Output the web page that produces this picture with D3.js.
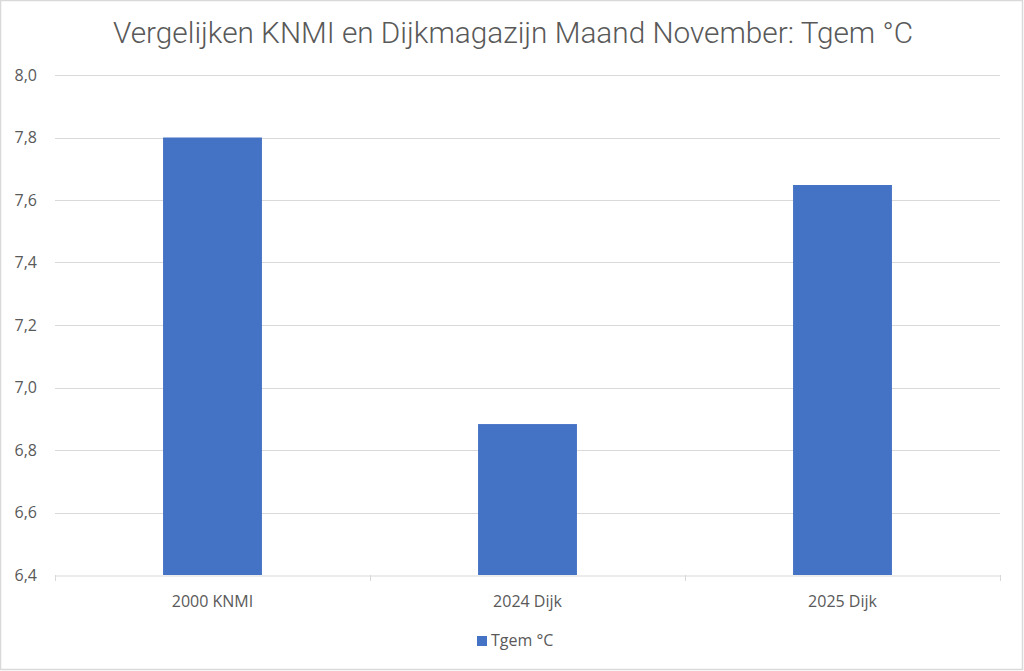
<!DOCTYPE html>
<html><head><meta charset="utf-8">
<script src="https://cdn.jsdelivr.net/npm/d3@7"></script>
<style>body{margin:0;background:#fff}svg{display:block}</style>
</head><body>
<svg id="c" width="1024" height="671"></svg>
<script>
const categories = ["2000 KNMI", "2024 Dijk", "2025 Dijk"];
const values = [7.80, 6.883, 7.648];
const yTicks = [6.4, 6.6, 6.8, 7.0, 7.2, 7.4, 7.6, 7.8, 8.0];
const seriesName = "Tgem °C";
const title = "Vergelijken KNMI en Dijkmagazijn Maand November: Tgem °C";

(function(){
const svg = d3.select("#c");
const W = 1024, H = 671;
svg.append("rect").attr("x",0.5).attr("y",0.5).attr("width",W-2).attr("height",H-2)
  .attr("fill","#fff").attr("stroke","#d9d9d9").attr("stroke-width",1.5);

const pL = 55, pR = 1000, pT = 75, pB = 575;
const x = d3.scaleBand().domain(categories).range([pL, pR]).paddingInner(0.686).paddingOuter(0.343);
const y = d3.scaleLinear().domain([6.4, 8.0]).range([pB, pT]);
const fmt = d => d3.format(".1f")(d).replace(".", ",");
const font = "'Open Sans', 'Noto Sans', sans-serif";

svg.append("g").selectAll("line").data(yTicks.slice(1)).join("line")
  .attr("x1", pL).attr("x2", pR)
  .attr("y1", d => Math.round(y(d))+0.5).attr("y2", d => Math.round(y(d))+0.5)
  .attr("stroke", "#d9d9d9").attr("stroke-width", 1);

svg.append("g").selectAll("text").data(yTicks).join("text")
  .attr("x", 37).attr("y", d => y(d)).attr("dy", "0.35em")
  .attr("text-anchor", "end")
  .attr("font-family", font).attr("font-size", 16)
  .attr("fill", "#595959").text(fmt);

svg.append("g").selectAll("rect").data(values).join("rect")
  .attr("x", (d,i) => x(categories[i])).attr("width", x.bandwidth())
  .attr("y", d => y(d)).attr("height", d => y(6.4) - y(d))
  .attr("fill", "#4472c4");

const xa = svg.append("g").attr("transform", `translate(0,${pB+0.5})`)
  .call(d3.axisBottom(x).tickSize(0).tickFormat(""));
xa.select(".domain").attr("stroke", "#d9d9d9");
const bounds = [pL, pL + x.step(), pL + 2*x.step(), pR];
svg.append("g").selectAll("line").data(bounds).join("line")
  .attr("x1", d => Math.round(d)+0.5).attr("x2", d => Math.round(d)+0.5)
  .attr("y1", pB).attr("y2", pB+6).attr("stroke", "#d9d9d9");
svg.append("g").selectAll("text").data(categories).join("text")
  .attr("x", d => x(d) + x.bandwidth()/2).attr("y", 601).attr("dy","0.35em")
  .attr("text-anchor", "middle")
  .attr("font-family", font).attr("font-size", 16)
  .attr("fill", "#595959").text(d => d);

svg.append("text").attr("x", 513).attr("y", 43).attr("text-anchor", "middle")
  .attr("font-family", "Roboto, sans-serif").attr("font-size", 30)
  .attr("font-weight", 300)
  .attr("textLength", 800).attr("lengthAdjust", "spacingAndGlyphs")
  .attr("fill", "#595959").text(title);

const lg = svg.append("g");
lg.append("rect").attr("x", 477).attr("y", 636).attr("width", 10).attr("height", 10).attr("fill", "#4472c4");
lg.append("text").attr("x", 491).attr("y", 640).attr("dy","0.35em")
  .attr("font-family", font).attr("font-size", 16)
  .attr("fill", "#595959").text(seriesName);
})();
</script>
</body></html>
